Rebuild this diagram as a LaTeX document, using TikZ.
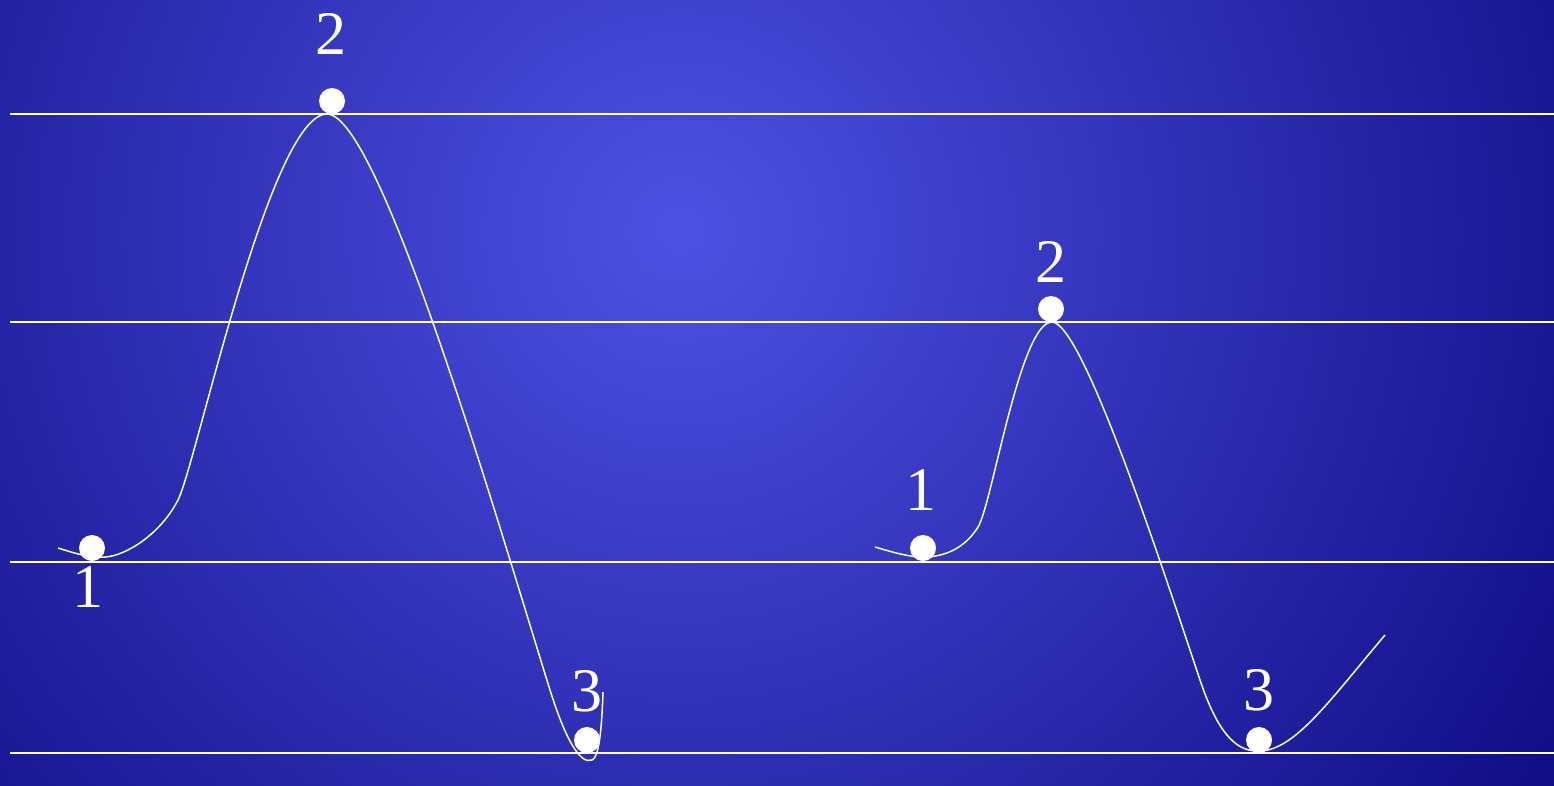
\documentclass[tikz,border=0pt]{standalone}
\usepackage{fontspec}
\setmainfont{Liberation Serif}
\definecolor{glowin}{HTML}{4D52E3}
\definecolor{glowout}{HTML}{100C85}
\pgfdeclareradialshading{glow}{\pgfpoint{0bp}{0bp}}{color(0bp)=(glowin); color(25bp)=(glowout); color(50bp)=(glowout)}
\tikzset{
  level/.style={white, line width=2pt},
  hill/.style={white, line width=1.5pt},
  dot/.style={circle, fill=white, inner sep=0pt, minimum size=26pt},
  num/.style={white, inner sep=0pt, font=\fontsize{62}{70}\selectfont}
}
\begin{document}
\begin{tikzpicture}[x=1pt,y=-1pt]
\useasboundingbox (0,0) rectangle (1554,785);
\begin{scope}
\clip (0,0) rectangle (1554,785);
\shade[shading=glow] (680,230) circle (1040);
\end{scope}
\draw[level] (10,114) -- (1554,114);
\draw[level] (10,322) -- (1554,322);
\draw[level] (10,562) -- (1554,562);
\draw[level] (10,753) -- (1554,753);
\draw[hill] (58,548) .. controls (80,555) and (92,558) .. (105,557)
  .. controls (125,556) and (160,535) .. (178,500)
  .. controls (196,465) and (270,114) .. (327,114)
  .. controls (380,114) and (500,530) .. (550,690)
  .. controls (565,738) and (580,765) .. (592,760)
  .. controls (600,757) and (602,720) .. (603,692);
\draw[hill] (875,547) .. controls (895,553) and (910,557) .. (923,557)
  .. controls (945,557) and (965,548) .. (978,527)
  .. controls (992,505) and (1020,322) .. (1052,322)
  .. controls (1082,322) and (1160,560) .. (1200,680)
  .. controls (1220,740) and (1240,752) .. (1260,751)
  .. controls (1295,750) and (1330,700) .. (1385,635);
\node[dot] (low1) at (92,548) {};
\node[dot] (top1) at (332,101) {};
\node[dot] (end1) at (587,740) {};
\node[dot] (low2) at (923,548) {};
\node[dot] (top2) at (1051,309) {};
\node[dot] (end2) at (1259,740) {};
\node[num] (lowlabel1) at (88,587) {1};
\node[num] (toplabel1) at (331,34) {2};
\node[num] (endlabel1) at (587,691) {3};
\node[num] (lowlabel2) at (921,490) {1};
\node[num] (toplabel2) at (1051,262) {2};
\node[num] (endlabel2) at (1259,690) {3};
\end{tikzpicture}
\end{document}
